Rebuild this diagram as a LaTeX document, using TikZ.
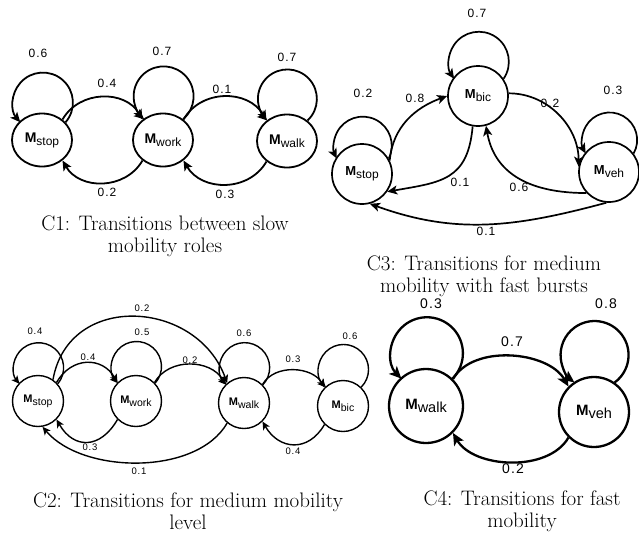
\documentclass[tikz,border=0pt]{standalone}
\usepackage{fontspec}
\newfontfamily\arialf{Liberation Sans}
\newfontfamily\labf{Liberation Sans}[LetterSpace=8]
\usetikzlibrary{arrows.meta,shapes.geometric}
\newcommand\Ml[3]{{\fontsize{#1}{#1}\selectfont\bfseries M}{\fontsize{#2}{#2}\selectfont\raisebox{-0.25em}{#3}}}
\begin{document}
\begin{tikzpicture}[x=1pt,y=1pt,
  n1/.style={draw,ellipse,minimum width=60pt,minimum height=53pt,inner sep=0pt,line width=1.8pt,font=\arialf},
  n2/.style={draw,circle,minimum size=51pt,inner sep=0pt,line width=1.4pt,font=\arialf},
  n3/.style={draw,circle,minimum size=60pt,inner sep=0pt,line width=1.7pt,font=\arialf},
  n4/.style={draw,circle,inner sep=0pt,line width=2.3pt,font=\arialf},
  e1/.style={line width=1.8pt,-{Stealth[length=10pt,width=9pt,inset=2.5pt]}},
  e2/.style={line width=1.4pt,-{Stealth[length=8pt,width=7.5pt,inset=2pt]}},
  e3/.style={line width=1.7pt,-{Stealth[length=10pt,width=9pt,inset=2.5pt]}},
  e4/.style={line width=2.3pt,-{Stealth[length=12pt,width=11pt,inset=3pt]}},
  lb1/.style={inner sep=0pt,font={\labf\fontsize{12}{12}\selectfont}},
  lb2/.style={inner sep=0pt,font={\labf\fontsize{9.5}{9.5}\selectfont}},
  lb4/.style={inner sep=0pt,font={\labf\fontsize{14}{14}\selectfont}},
  captxt/.style={align=center,inner sep=0pt,font={\fontsize{21}{22}\selectfont}}
]
\useasboundingbox (0,0) rectangle (639,-533);

% ---------------- C1 ----------------
\node[n1] (s1) at (42,-140) {\Ml{14}{12}{stop}};
\node[n1] (w1) at (163,-140) {\Ml{14}{12}{work}};
\node[n1] (k1) at (287,-141) {\Ml{14}{12}{walk}};
\draw[e1] (s1.37) arc[start angle=-41, end angle=221, radius=30];
\draw[e1] (w1.46) arc[start angle=-49.5, end angle=229.5, radius=30];
\draw[e1] (k1.45) arc[start angle=-47, end angle=227, radius=29.5];
\draw[e1] (s1.45) to[out=60,in=120,looseness=1.1] (w1.135);
\draw[e1] (w1.-135) to[out=-120,in=-60,looseness=1.1] (s1.-45);
\draw[e1] (w1.45) to[out=60,in=120,looseness=1.1] (k1.135);
\draw[e1] (k1.-135) to[out=-120,in=-60,looseness=1.1] (w1.-45);
\node[lb1] (l1a) at (38,-53) {0.6};
\node[lb1] (l1b) at (162,-51) {0.7};
\node[lb1] (l1c) at (287,-57) {0.7};
\node[lb1] (l1d) at (107,-83) {0.4};
\node[lb1] (l1e) at (107,-192) {0.2};
\node[lb1] (l1f) at (222,-89) {0.1};
\node[lb1] (l1g) at (225,-194) {0.3};
\node[captxt] (c1) at (165,-236) {C1: Transitions between slow\\mobility roles};

% ---------------- C3 ----------------
\node[n3] (b3) at (478,-96) {\Ml{13}{12}{bic}};
\node[n3] (s3) at (362,-174) {\Ml{13}{12}{stop}};
\node[n3] (v3) at (609,-172) {\Ml{13}{12}{veh}};
\draw[e3] (b3.34) arc[start angle=-34.5, end angle=214.5, radius=30];
\draw[e3] (s3.30) arc[start angle=-26.5, end angle=206.5, radius=29];
\draw[e3] (v3.37) arc[start angle=-29.3, end angle=209.3, radius=27.5];
\draw[e3] (s3.26) to[out=85,in=200,looseness=1] (b3.180);
\draw[e3] (b3.5) to[out=0,in=90,looseness=1] (v3.170);
\draw[e3] (b3.-100) to[out=-95,in=10,looseness=1.3] (s3.-35);
\draw[e3] (v3.-137) to[out=180,in=-80,out looseness=1.5,in looseness=0.8] (b3.-75);
\draw[e3] (v3.-95) to[out=195,in=-20,looseness=1] (s3.-75);
\node[lb1] (l3a) at (477,-13) {0.7};
\node[lb1] (l3b) at (363,-93) {0.2};
\node[lb1] (l3c) at (613,-90) {0.3};
\node[lb1] (l3d) at (415,-98) {0.8};
\node[lb1] (l3e) at (550,-103) {0.2};
\node[lb1] (l3f) at (460,-182) {0.1};
\node[lb1] (l3g) at (519,-187) {0.6};
\node[lb1] (l3h) at (486,-231) {0.1};
\node[captxt] (c3) at (484,-276) {C3: Transitions for medium\\mobility with fast bursts};

% ---------------- C2 ----------------
\node[n2] (s2) at (38,-401) {\Ml{11}{10.5}{stop}};
\node[n2] (w2) at (136,-401) {\Ml{11}{10.5}{work}};
\node[n2] (k2) at (244,-403) {\Ml{11}{10.5}{walk}};
\node[n2] (b2) at (343,-406) {\Ml{11}{10.5}{bic}};
\draw[e2] (s2.41) arc[start angle=-40, end angle=220, radius=25];
\draw[e2] (w2.43) arc[start angle=-41.7, end angle=221.7, radius=25];
\draw[e2] (k2.44) arc[start angle=-43.3, end angle=223.3, radius=25];
\draw[e2] (b2.46) arc[start angle=-45, end angle=225, radius=25];
\draw[e2] (s2.45) to[out=60,in=120,looseness=1.27] (w2.135);
\draw[e2] (s2.55) to[out=80,in=110,looseness=1.31] (k2.130);
\draw[e2] (w2.45) to[out=60,in=120,looseness=1.05] (k2.135);
\draw[e2] (k2.45) to[out=60,in=120,looseness=1.0] (b2.135);
\draw[e2] (w2.-135) to[out=-120,in=-60,looseness=1.45] (s2.-45);
\draw[e2] (k2.-130) to[out=-120,in=-50,looseness=0.85] (s2.-80);
\draw[e2] (b2.-135) to[out=-120,in=-60,looseness=1.35] (k2.-45);
\node[lb2] (l2a) at (35,-331) {0.4};
\node[lb2] (l2b) at (142,-332) {0.5};
\node[lb2] (l2c) at (244,-333) {0.6};
\node[lb2] (l2d) at (350,-336) {0.6};
\node[lb2] (l2e) at (88,-357) {0.4};
\node[lb2] (l2f) at (142,-308) {0.2};
\node[lb2] (l2g) at (190,-360) {0.2};
\node[lb2] (l2h) at (293,-359) {0.3};
\node[lb2] (l2i) at (90,-447) {0.3};
\node[lb2] (l2j) at (139,-471) {0.1};
\node[lb2] (l2k) at (293,-451) {0.4};
\node[captxt] (c2) at (188,-511) {C2: Transitions for medium mobility\\level};

% ---------------- C4 ----------------
\node[n4,minimum size=74pt] (a4) at (426,-406) {\Ml{15}{14.5}{walk}};
\node[n4,minimum size=70pt] (v4) at (594,-412) {\Ml{15}{14.5}{veh}};
\draw[e4] (a4.46) arc[start angle=-44.7, end angle=224.7, radius=36];
\draw[e4] (v4.55) arc[start angle=-53.6, end angle=233.6, radius=34];
\draw[e4] (a4.45) to[out=60,in=120,looseness=0.9] (v4.135);
\draw[e4] (v4.-135) to[out=-120,in=-60,looseness=0.9] (a4.-45);
\node[lb4] (l4a) at (431,-304) {0.3};
\node[lb4] (l4b) at (606,-304) {0.8};
\node[lb4] (l4c) at (512,-342) {0.7};
\node[lb4] (l4d) at (513,-469) {0.2};
\node[captxt] (c4) at (522,-511) {C4: Transitions for fast\\mobility};
\end{tikzpicture}
\end{document}
